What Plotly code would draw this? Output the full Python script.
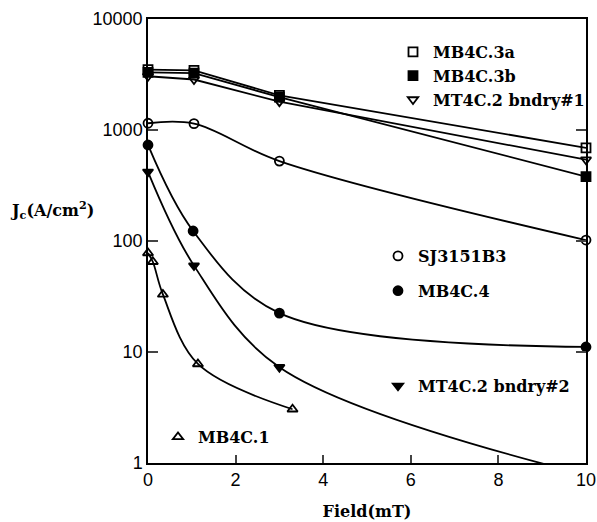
import plotly.graph_objects as go

# ---- data ----
names = ["MB4C.3a", "MB4C.3b", "MT4C.2 bndry#1", "SJ3151B3", "MB4C.4",
         "MT4C.2 bndry#2", "MB4C.1"]

x_3a = [0, 1.05, 3, 10]
y_3a = [3500, 3450, 2050, 690]

x_3b = [0, 1.05, 3, 10]
y_3b = [3300, 3250, 1980, 380]

x_b1 = [0, 1.05, 3, 10]
y_b1 = [3050, 2850, 1800, 540]

x_sj = [0, 1.05, 3, 10]
y_sj = [1150, 1140, 525, 102]

x_m4 = [0, 1.03, 3, 10]
y_m4 = [733, 123, 22.4, 11.1]

x_b2 = [0, 1.05, 3, 10]
y_b2 = [420, 60, 7.3, 0.78]

x_m1 = [0, 0.11, 0.34, 1.14, 3.3]
y_m1 = [78, 65, 33, 7.8, 3.05]

x_ticks = [0, 2, 4, 6, 8, 10]
y_ticks = [1, 10, 100, 1000, 10000]
y_ticklabels = ["1", "10", "100", "1000", "10000"]

series = [
    (x_3a, y_3a, "square-open", "linear", "legend"),
    (x_3b, y_3b, "square", "linear", "legend"),
    (x_b1, y_b1, "triangle-down-open", "linear", "legend"),
    (x_sj, y_sj, "circle-open", "spline", "legend2"),
    (x_m4, y_m4, "circle", "spline", "legend2"),
    (x_b2, y_b2, "triangle-down", "spline", "legend3"),
    (x_m1, y_m1, "triangle-up-open", "spline", "legend4"),
]

fig = go.Figure()
for (xs, ys, sym, shape, leg), nm in zip(series, names):
    fig.add_trace(go.Scatter(
        x=xs, y=ys, mode="lines", showlegend=False,
        line=dict(color="black", width=1.8, shape=shape, smoothing=1.0)))
for (xs, ys, sym, shape, leg), nm in zip(series, names):
    vis = [(a, b) for a, b in zip(xs, ys) if b >= 1]
    fig.add_trace(go.Scatter(
        x=[v[0] for v in vis], y=[v[1] for v in vis], mode="markers",
        name=nm, legend=leg, legendgroup=nm, cliponaxis=False,
        marker=dict(symbol=sym, size=9, color="black",
                    line=dict(color="black", width=1.8))))

serif = dict(family="DejaVu Serif", size=16, color="black", weight="bold")
leg_common = dict(font=serif, bgcolor="rgba(0,0,0,0)", borderwidth=0,
                  xanchor="left", yanchor="top", itemsizing="trace",
                  traceorder="grouped")

W, H = 597, 522
L, R, T, B = 148, 11, 19, 59
pw, ph = W - L - R, H - T - B


def px(xp):
    return (xp - L) / pw


def py(yp):
    return (H - B - yp) / ph


fig.update_layout(
    width=W, height=H,
    margin=dict(l=L, r=R, t=T, b=B, autoexpand=False),
    paper_bgcolor="white", plot_bgcolor="white",
    showlegend=True,
    legend=dict(x=px(393), y=py(35), tracegroupgap=0, **leg_common),
    legend2=dict(x=px(378), y=py(239), tracegroupgap=11, **leg_common),
    legend3=dict(x=px(378), y=py(369), tracegroupgap=4, **leg_common),
    legend4=dict(x=px(158), y=py(420), tracegroupgap=4, **leg_common),
    xaxis=dict(range=[0, 10], tickvals=x_ticks, ticks="inside", ticklen=8,
               tickwidth=1.5, showline=True, linecolor="black", linewidth=1.5,
               mirror=True, showgrid=False, zeroline=False,
               tickfont=dict(family="Liberation Sans", size=18, color="black"),
               title=dict(text="Field(mT)", standoff=16,
                          font=dict(family="DejaVu Serif", size=16,
                                    color="black", weight="bold"))),
    yaxis=dict(type="log", range=[0, 4], tickvals=y_ticks,
               ticktext=y_ticklabels, ticks="inside", ticklen=10,
               tickwidth=1.5, showline=True, linecolor="black", linewidth=1.5,
               mirror="ticks", showgrid=False, zeroline=False,
               tickfont=dict(family="Liberation Sans", size=18, color="black")),
    annotations=[dict(
        text="J<sub>c</sub>(A/cm<sup>2</sup>)", xref="paper", yref="paper",
        x=px(8), y=py(210), xanchor="left", yanchor="middle",
        showarrow=False,
        font=dict(family="DejaVu Serif", size=16, color="black",
                  weight="bold"))],
)

fig.write_html("out.html",
               config={"displayModeBar": False},
               post_script="document.body.style.margin='0';"
                           "document.body.style.overflow='hidden';")
